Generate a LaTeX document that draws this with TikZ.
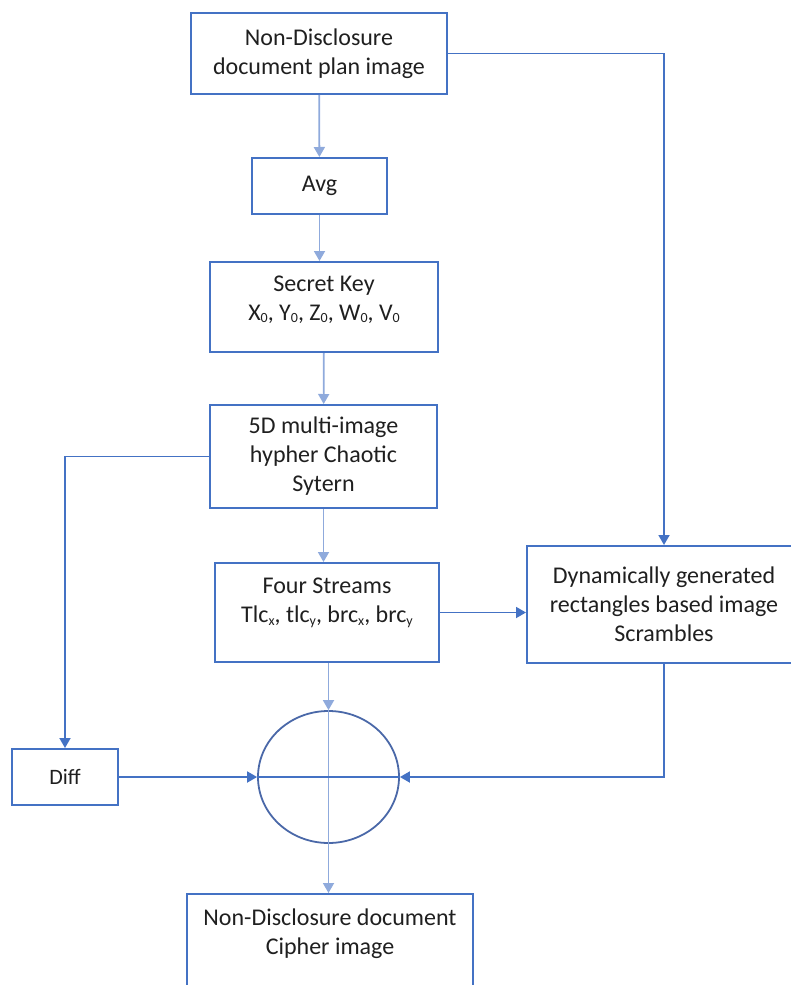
\documentclass[tikz,border=0pt]{standalone}
\usepackage{fontspec}
\setmainfont{Carlito}
\usepackage{tikz}
\usetikzlibrary{positioning, shapes.geometric, arrows.meta, calc}
\definecolor{boxblue}{HTML}{4472C4}
\definecolor{lineblue}{HTML}{8FAADC}
\definecolor{ringblue}{HTML}{4A68A8}
\newcommand{\lowsub}[1]{\raisebox{-0.22ex}{\fontsize{14}{14}\selectfont #1}}

\begin{document}
\begin{tikzpicture}[x=1pt, y=-1pt,
    block/.style={rectangle, draw=boxblue, line width=2pt, align=center, inner sep=2pt,
        font=\fontsize{24}{29}\selectfont, text=black!88},
    arrow/.style={line width=1.8pt, draw=boxblue, -{Triangle[width=11pt,length=10pt]}},
    lightarrow/.style={line width=1.8pt, draw=lineblue, -{Triangle[width=11pt,length=10pt]}}
]
    \useasboundingbox (0,0) rectangle (791,985);

    \node[block, minimum width=256, minimum height=81] (plan) at (319, 53.5) {Non-Disclosure\\document plan image};
    \node[block, minimum width=135, minimum height=56] (avg) at (319.5, 186) {Avg};
    \node[block, minimum width=228, minimum height=90, text depth=18pt] (key) at (324, 307) {Secret Key\\X\lowsub{0}, Y\lowsub{0}, Z\lowsub{0}, W\lowsub{0}, V\lowsub{0}};
    \node[block, minimum width=227, minimum height=103] (chaos) at (323.5, 456.5) {5D multi-image\\hypher Chaotic\\Sytern};
    \node[block, minimum width=224, minimum height=99, text depth=24pt] (streams) at (327, 612.5) {Four Streams\\Tlc\lowsub{x}, tlc\lowsub{y}, brc\lowsub{x}, brc\lowsub{y}};
    \node[block, minimum width=274, minimum height=117] (dyn) at (664, 604.5) {Dynamically generated\\rectangles based image\\Scrambles};
    \node[block, minimum width=106, minimum height=56, font=\fontsize{22}{26}\selectfont] (diff) at (65, 777) {Diff};
    \node[ellipse, draw=ringblue, line width=1.8pt, minimum width=141, minimum height=132, inner sep=0pt] (xor) at (328.5, 777) {};
    \node[block, minimum width=286, minimum height=136, anchor=north, text depth=60pt] (cipher) at (330, 893) {Non-Disclosure document\\Cipher image};

    % cross inside the circle
    \draw[line width=1.8pt, lineblue] (xor.north) -- (xor.south);
    \draw[line width=1.8pt, boxblue] (xor.west) -- (xor.east);

    % main chain
    \draw[lightarrow] (plan) -- (avg);
    \draw[lightarrow] (avg.south) -- (avg.south |- key.north);
    \draw[lightarrow] (key) -- (chaos);
    \draw[lightarrow] (chaos.south) -- (chaos.south |- streams.north);
    \draw[lightarrow] (xor.north |- streams.south) -- (xor.north);
    \draw[lightarrow] (xor.south) -- (xor.south |- cipher.north);

    % side paths
    \draw[arrow] (plan.east) -| (dyn.north);
    \draw[arrow] (chaos.west) -| (diff.north);
    \draw[arrow] (streams.east) -- (streams.east -| dyn.west);
    \draw[arrow] (dyn.south) |- (xor.east);
    \draw[arrow] (diff.east) -- (xor.west);
\end{tikzpicture}
\end{document}
